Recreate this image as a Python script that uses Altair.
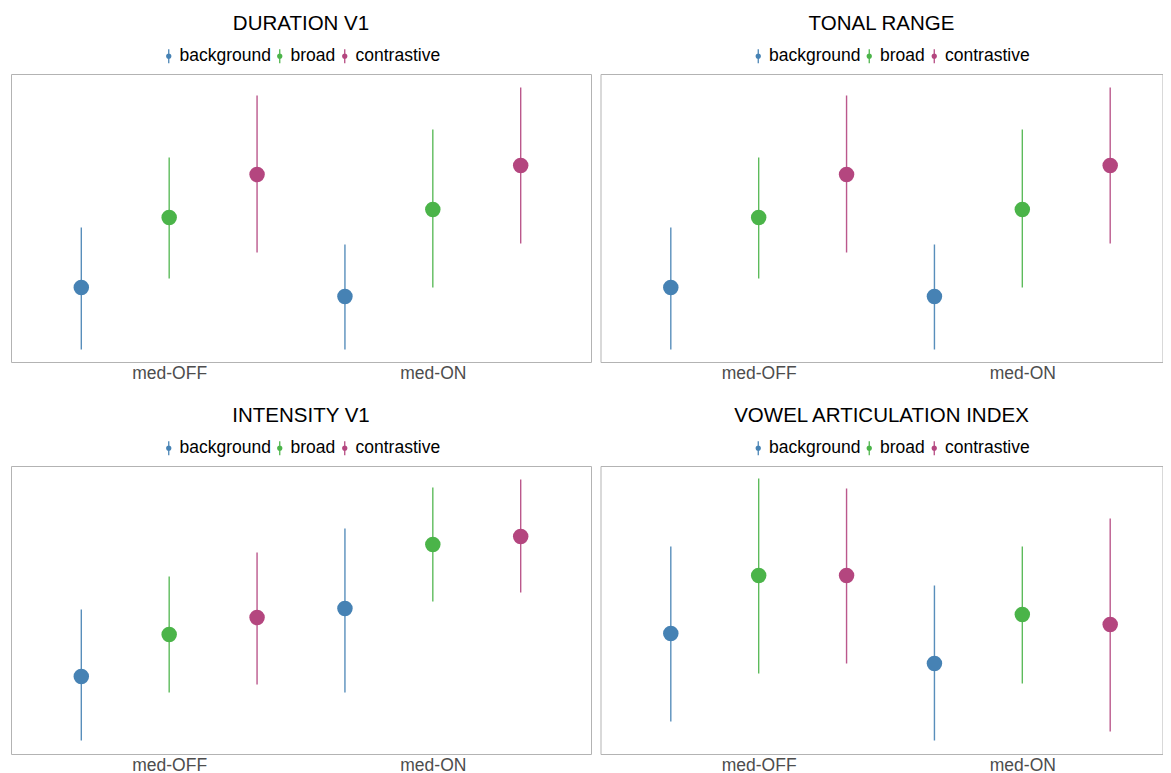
import altair as alt
import pandas as pd

FONT = "Liberation Sans"

conditions = ["med-OFF", "med-ON"]
focus = ["background", "broad", "contrastive"]
colors = ["#4682B4", "#4BB449", "#B4467F"]

titles = ["DURATION V1", "TONAL RANGE", "INTENSITY V1", "VOWEL ARTICULATION INDEX"]

# order: OFF-background, OFF-broad, OFF-contrastive, ON-background, ON-broad, ON-contrastive
duration_mean = [74.5, 144.5, 187.5, 65.5, 152.5, 196.5]
duration_lo = [12.5, 83.5, 109.5, 12.5, 74.5, 118.5]
duration_hi = [134.5, 204.5, 266.5, 117.5, 232.5, 274.5]

tonal_mean = [74.5, 144.5, 187.5, 65.5, 152.5, 196.5]
tonal_lo = [12.5, 83.5, 109.5, 12.5, 74.5, 118.5]
tonal_hi = [134.5, 204.5, 266.5, 117.5, 232.5, 274.5]

intensity_mean = [77.5, 119.5, 136.5, 145.5, 209.5, 217.5]
intensity_lo = [13.5, 61.5, 69.5, 61.5, 152.5, 161.5]
intensity_hi = [144.5, 177.5, 201.5, 225.5, 266.5, 274.5]

vai_mean = [120.5, 178.5, 178.5, 90.5, 139.5, 129.5]
vai_lo = [32.5, 80.5, 90.5, 13.5, 70.5, 22.5]
vai_hi = [207.5, 275.5, 265.5, 168.5, 207.5, 235.5]

SYMBOL = ("M-0.09,-1H0.09V1H-0.09Z "
          "M-0.38,0A0.38,0.38,0,1,1,0.38,0A0.38,0.38,0,1,1,-0.38,0Z")


def make_df(mean, lo, hi):
    rows = []
    k = 0
    for ci, c in enumerate(conditions):
        for fi, f in enumerate(focus):
            rows.append({
                "condition": c,
                "focus": f,
                "xpos": ci + 1 + (fi - 1) / 3.0,
                "mean": mean[k],
                "lo": lo[k],
                "hi": hi[k],
            })
            k += 1
    return pd.DataFrame(rows)


def legend_spec():
    return alt.Legend(
        title=None,
        orient="none",
        direction="horizontal",
        legendX=149,
        legendY=-27,
        symbolType=SYMBOL,
        symbolSize=196,
        symbolStrokeWidth=0,
        symbolOpacity=1,
        labelFontSize=17.5,
        labelFont=FONT,
        labelColor="black",
        labelOffset=2,
        columnPadding=0,
        padding=0,
    )


def panel(title, mean, lo, hi, width, xmax):
    df = make_df(mean, lo, hi)
    base = alt.Chart(df)
    xscale = alt.Scale(domain=[0.4, xmax], nice=False, zero=False)
    yscale = alt.Scale(domain=[0, 288], nice=False, zero=False)
    x = alt.X(
        "xpos:Q",
        scale=xscale,
        axis=alt.Axis(
            values=[1, 2],
            labelExpr="datum.value == 1 ? 'med-OFF' : 'med-ON'",
            title=None,
            grid=False,
            ticks=False,
            tickSize=0,
            domain=False,
            labelFontSize=17.5,
            labelFont=FONT,
            labelColor="#4d4d4d",
            labelPadding=2,
        ),
    )
    cscale = alt.Scale(domain=focus, range=colors)
    rules = base.mark_rule(strokeWidth=1.4, opacity=0.9).encode(
        x=x,
        y=alt.Y("lo:Q", scale=yscale, axis=None),
        y2="hi:Q",
        color=alt.Color("focus:N", scale=cscale, legend=legend_spec()),
    )
    points = base.mark_point(filled=True, size=240, opacity=1).encode(
        x=x,
        y=alt.Y("mean:Q", scale=yscale, axis=None),
        color=alt.Color("focus:N", scale=cscale, legend=legend_spec()),
    )
    return alt.layer(rules, points).properties(
        width=width,
        height=288,
        title=alt.TitleParams(
            title,
            fontSize=20.5,
            font=FONT,
            fontWeight="normal",
            color="black",
            anchor="middle",
            baseline="alphabetic",
            offset=-3,
        ),
    )


RW = 562
rxmax = 0.4 + 2.2 * RW / 580.0

p1 = panel(titles[0], duration_mean, duration_lo, duration_hi, 580, 2.6)
p2 = panel(titles[1], tonal_mean, tonal_lo, tonal_hi, RW, rxmax)
p3 = panel(titles[2], intensity_mean, intensity_lo, intensity_hi, 580, 2.6)
p4 = panel(titles[3], vai_mean, vai_lo, vai_hi, RW, rxmax)

chart = (
    alt.concat(p1, p2, p3, p4, columns=2, spacing={"row": 104, "column": 9.5}, bounds="flush")
    .resolve_scale(color="independent", x="independent", y="independent")
    .properties(padding={"left": 2, "top": 5, "right": 0, "bottom": 0}, background="white")
    .configure_view(stroke="#b3b3b3", strokeWidth=1)
)

chart.save("out.html", embed_options={"renderer": "svg", "actions": False})
